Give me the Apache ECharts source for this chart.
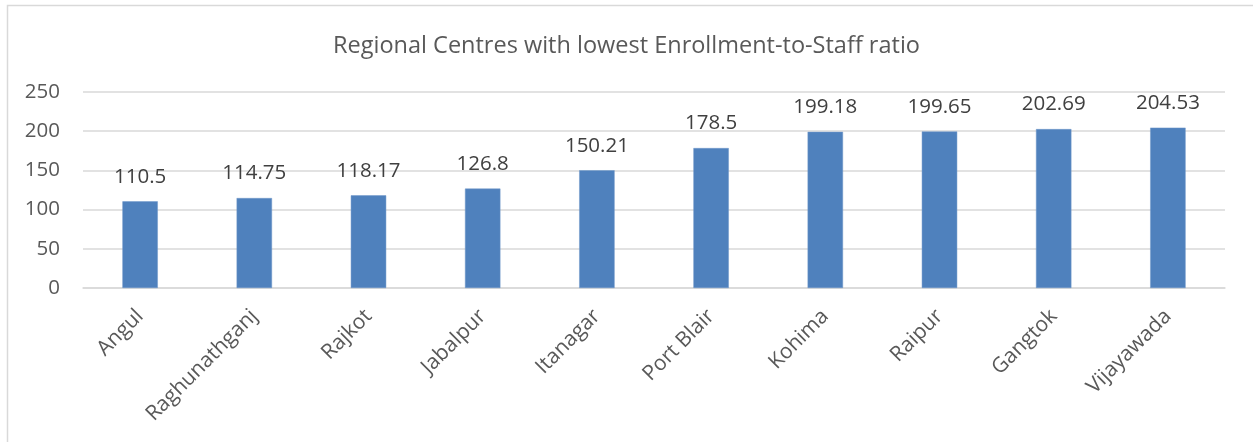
<!DOCTYPE html>
<html>
<head>
<meta charset="utf-8">
<script src="https://cdn.jsdelivr.net/npm/echarts@6/dist/echarts.min.js"></script>
<style>
  html, body { margin: 0; padding: 0; background: #fff; }
  #chart { width: 1253px; height: 442px; }
</style>
</head>
<body>
<div id="chart"></div>
<script>
// Regional centres and their enrollment-to-staff ratio
const centres = ['Angul', 'Raghunathganj', 'Rajkot', 'Jabalpur', 'Itanagar',
  'Port Blair', 'Kohima', 'Raipur', 'Gangtok', 'Vijayawada'];
const ratios = [110.5, 114.75, 118.17, 126.8, 150.21, 178.5, 199.18, 199.65, 202.69, 204.53];
const yTicks = [0, 50, 100, 150, 200, 250];

const FONT = '"Open Sans", "Liberation Sans", sans-serif';
const chart = echarts.init(document.getElementById('chart'), null, { renderer: 'canvas' });

chart.setOption({
  animation: false,
  backgroundColor: '#ffffff',
  graphic: [{
    type: 'rect',
    shape: { x: 7.5, y: 5.5, width: 1260, height: 450 },
    style: { fill: 'none', stroke: '#D9D9D9', lineWidth: 1.5 },
    silent: true
  }],
  title: {
    text: 'Regional Centres with lowest Enrollment-to-Staff ratio',
    left: 'center',
    top: 29,
    textStyle: { fontFamily: FONT, fontSize: 23.5, fontWeight: 'normal', color: '#595959' }
  },
  grid: { left: 83, right: 28, top: 92, bottom: 154, containLabel: false },
  xAxis: {
    type: 'category',
    data: centres,
    axisLine: { lineStyle: { color: '#D9D9D9', width: 1.5 } },
    axisTick: { show: false },
    axisLabel: {
      rotate: 45,
      interval: 0,
      margin: 25,
      fontFamily: FONT,
      fontSize: 21,
      color: '#595959'
    }
  },
  yAxis: {
    type: 'value',
    min: yTicks[0],
    max: yTicks[yTicks.length - 1],
    interval: yTicks[1] - yTicks[0],
    axisLine: { show: false },
    axisTick: { show: false },
    splitLine: { lineStyle: { color: '#D9D9D9', width: 1.5 } },
    axisLabel: { fontFamily: FONT, fontSize: 20.5, color: '#595959', margin: 23 }
  },
  series: [{
    type: 'bar',
    data: ratios,
    barWidth: '31%',
    itemStyle: { color: '#4F81BD', borderColor: '#6E97C8', borderWidth: 0.5 },
    label: {
      show: true,
      position: 'top',
      distance: 14,
      fontFamily: FONT,
      fontSize: 20.5,
      color: '#404040',
      formatter: p => String(p.value)
    }
  }]
});
</script>
</body>
</html>
